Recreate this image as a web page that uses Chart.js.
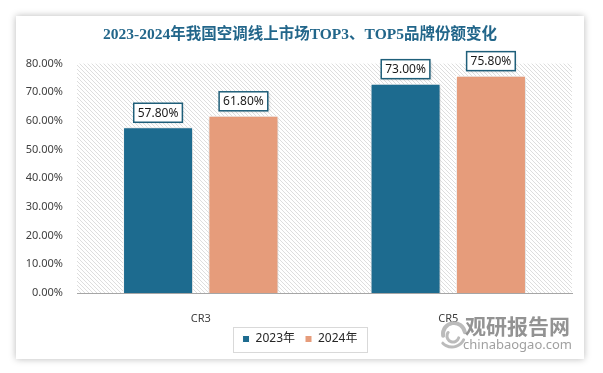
<!DOCTYPE html>
<html>
<head>
<meta charset="utf-8">
<script src="https://cdn.jsdelivr.net/npm/chart.js@4/dist/chart.umd.min.js"></script>
<style>
  html, body { margin: 0; padding: 0; background: #ffffff; }
  body { width: 603px; height: 373px; position: relative; overflow: hidden; }
  #card {
    position: absolute; left: 16px; top: 16px; width: 568px; height: 343px;
    background: #ffffff; box-shadow: 0 0 7px rgba(0, 0, 0, 0.28);
  }
  #wrap { position: absolute; left: 0; top: 0; width: 568px; height: 339px; }
</style>
</head>
<body>
<div id="card"><div id="wrap"><canvas id="chart"></canvas></div></div>
<script>
// Datos del gráfico
const categories = ['CR3', 'CR5'];
const seriesNames = ['2023年', '2024年'];
const values2023 = [57.8, 73.0];
const values2024 = [61.8, 75.8];
const yMax = 80;
const yStep = 10;

const colors = ['#1d6b8f', '#e69c7b'];
const titleText = '2023-2024年我国空调线上市场TOP3、TOP5品牌份额变化';
const sansFont = '"Noto Sans", "Noto Sans CJK SC", sans-serif';

// Fondo rayado del área del gráfico
function makeHatch() {
  const c = document.createElement('canvas');
  c.width = 4; c.height = 4;
  const g = c.getContext('2d');
  g.fillStyle = '#ffffff';
  g.fillRect(0, 0, 4, 4);
  g.strokeStyle = '#dedede';
  g.lineWidth = 1;
  g.beginPath();
  g.moveTo(-1, -1); g.lineTo(5, 5);
  g.moveTo(3, -1); g.lineTo(5, 1);
  g.moveTo(-1, 3); g.lineTo(1, 5);
  g.stroke();
  return c;
}

const hatchPlugin = {
  id: 'hatch',
  beforeDraw(chart) {
    const { ctx, chartArea: a } = chart;
    ctx.save();
    ctx.fillStyle = ctx.createPattern(makeHatch(), 'repeat');
    ctx.fillRect(a.left, a.top, a.right - a.left, a.bottom - a.top);
    ctx.restore();
  }
};

// Sombra suave en las barras
const shadowPlugin = {
  id: 'barShadow',
  beforeDatasetsDraw(chart) {
    const ctx = chart.ctx;
    ctx.save();
    ctx.shadowColor = 'rgba(0, 0, 0, 0.22)';
    ctx.shadowBlur = 5;
    ctx.shadowOffsetX = 1;
    ctx.shadowOffsetY = 1;
  },
  afterDatasetsDraw(chart) {
    chart.ctx.restore();
  }
};

// Etiquetas de valor con recuadro
const labelPlugin = {
  id: 'valueBoxes',
  afterDatasetsDraw(chart) {
    const ctx = chart.ctx;
    ctx.save();
    ctx.font = '12px ' + sansFont;
    ctx.textAlign = 'center';
    ctx.textBaseline = 'middle';
    chart.data.datasets.forEach((ds, i) => {
      chart.getDatasetMeta(i).data.forEach((bar, j) => {
        const txt = ds.data[j].toFixed(2) + '%';
        const w = ctx.measureText(txt).width + 8;
        const h = 19;
        const x = bar.x - w / 2;
        const y = bar.y - 5 - h;
        ctx.save();
        ctx.shadowColor = 'rgba(0, 0, 0, 0.18)';
        ctx.shadowBlur = 3;
        ctx.shadowOffsetX = 1;
        ctx.shadowOffsetY = 1;
        ctx.fillStyle = '#ffffff';
        ctx.fillRect(x, y, w, h);
        ctx.restore();
        ctx.strokeStyle = '#1f5f7a';
        ctx.lineWidth = 1.5;
        ctx.strokeRect(x, y, w, h);
        ctx.fillStyle = '#1a1a1a';
        ctx.fillText(txt, bar.x, y + h / 2 + 0.5);
      });
    });
    ctx.restore();
  }
};

// Recuadro de la leyenda y marca de agua
const extrasPlugin = {
  id: 'extras',
  afterDraw(chart) {
    const ctx = chart.ctx;
    const boxes = chart.legend.legendHitBoxes;
    if (boxes && boxes.length) {
      const left = Math.min(...boxes.map(b => b.left)) - 10;
      const right = Math.max(...boxes.map(b => b.left + b.width)) + 9;
      const top = Math.min(...boxes.map(b => b.top)) - 6;
      const bottom = Math.max(...boxes.map(b => b.top + b.height)) + 7;
      ctx.save();
      ctx.strokeStyle = '#d9d9d9';
      ctx.lineWidth = 1;
      ctx.strokeRect(Math.round(left) + 0.5, Math.round(top) + 0.5, Math.round(right - left), Math.round(bottom - top));
      ctx.restore();
    }

    // marca de agua
    ctx.save();
    ctx.strokeStyle = 'rgba(175, 175, 175, 0.85)';
    ctx.lineCap = 'round';
    ctx.lineWidth = 4;
    ctx.beginPath();
    ctx.arc(438, 318, 11, Math.PI * 0.95, Math.PI * 1.95);
    ctx.stroke();
    ctx.lineWidth = 3;
    ctx.beginPath();
    ctx.arc(437, 320, 6, Math.PI * 0.1, Math.PI * 1.2);
    ctx.stroke();
    ctx.beginPath();
    ctx.arc(436, 318, 13, Math.PI * 0.15, Math.PI * 0.75);
    ctx.stroke();
    ctx.fillStyle = 'rgba(135, 135, 135, 0.9)';
    ctx.font = 'bold 21px "Noto Sans CJK SC", sans-serif';
    ctx.textBaseline = 'middle';
    ctx.textAlign = 'left';
    ctx.fillText('观研报告网', 449, 310);
    ctx.fillStyle = 'rgba(150, 150, 150, 0.9)';
    ctx.font = '13px ' + sansFont;
    ctx.fillText('chinabaogao.com', 447, 329);
    ctx.restore();
  }
};

new Chart(document.getElementById('chart'), {
  type: 'bar',
  data: {
    labels: categories,
    datasets: [
      { label: seriesNames[0], data: values2023, backgroundColor: colors[0], borderColor: '#ffffff', borderWidth: 1, yAxisID: 'y' },
      { label: seriesNames[1], data: values2024, backgroundColor: colors[1], borderColor: '#ffffff', borderWidth: 1, yAxisID: 'y' }
    ]
  },
  options: {
    responsive: true,
    maintainAspectRatio: false,
    animation: false,
    categoryPercentage: 0.69,
    barPercentage: 0.82,
    layout: { padding: 0 },
    plugins: {
      title: {
        display: true,
        text: titleText,
        color: '#22668a',
        font: { family: '"Liberation Serif", "Noto Sans CJK SC", serif', size: 15.5, weight: 'bold' },
        padding: { top: 10, bottom: 19 }
      },
      legend: {
        position: 'bottom',
        labels: {
          boxWidth: 7,
          boxHeight: 7,
          padding: 10,
          color: '#262626',
          font: { family: sansFont, size: 12 }
        }
      },
      tooltip: { enabled: false }
    },
    scales: {
      x: {
        grid: { display: false },
        border: { display: true, color: '#a6a6a6', width: 1 },
        ticks: { color: '#404040', padding: 11, font: { family: sansFont, size: 11 } },
        afterFit(s) { s.height = 30; }
      },
      y: {
        min: 0,
        max: yMax,
        grid: { display: false, drawTicks: false },
        border: { display: false },
        ticks: {
          stepSize: yStep,
          padding: 14,
          color: '#404040',
          font: { family: sansFont, size: 11 },
          callback: v => v.toFixed(2) + '%'
        },
        afterFit(s) { s.width = 61; }
      },
      // eje vacío a la derecha, solo para dejar margen
      yRight: {
        type: 'linear',
        position: 'right',
        grid: { display: false, drawTicks: false },
        border: { display: false },
        ticks: { display: false },
        afterFit(s) { s.width = 12; }
      }
    }
  },
  plugins: [hatchPlugin, shadowPlugin, labelPlugin, extrasPlugin]
});
</script>
</body>
</html>
